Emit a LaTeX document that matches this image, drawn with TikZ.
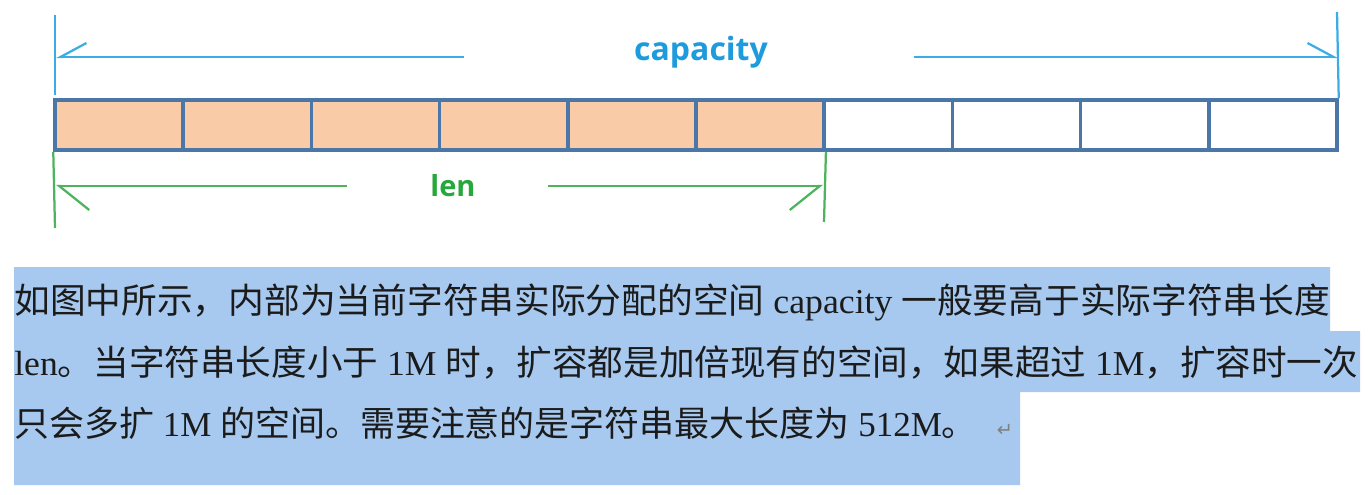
\documentclass[tikz,border=0pt]{standalone}
\usepackage{xcolor}
\usepackage{graphicx}
\usepackage{fontspec}
\usepackage{tikz}
\usetikzlibrary{arrows.meta}
\setmainfont{Liberation Serif}
\newfontfamily\zhfont{Noto Sans CJK SC}
\newfontfamily\labfont{Open Sans}
\newfontfamily\markfont{DejaVu Sans}
\newcommand{\zh}[1]{{\zhfont #1}}

\definecolor{capblue}{HTML}{1E9BDC}
\definecolor{caplineblue}{HTML}{3CACE6}
\definecolor{lengreen}{HTML}{27A83C}
\definecolor{lenlinegreen}{HTML}{4DB35C}
\definecolor{cellblue}{HTML}{4A76A8}
\definecolor{cellfill}{HTML}{F9CBA7}
\definecolor{markblue}{HTML}{A7C9EF}
\definecolor{textblack}{HTML}{1B1B1B}

\tikzset{
    cell/.style={draw=cellblue, line width=0.07cm, minimum width=2.564cm, minimum height=1cm, inner sep=0},
    usedcell/.style={cell, fill=cellfill},
    capline/.style={draw=caplineblue, line width=0.045cm},
    lenline/.style={draw=lenlinegreen, line width=0.045cm},
    capbarb/.style={-{Straight Barb[length=0.52cm, width=0.56cm, harpoon, #1]}},
    lenbarb/.style={-{Straight Barb[length=0.6cm, width=0.96cm, harpoon, #1]}},
    caplabel/.style={text=capblue, font=\labfont\bfseries\fontsize{18.2}{20}\selectfont, inner sep=0},
    lenlabel/.style={text=lengreen, font=\labfont\bfseries\fontsize{16.5}{18}\selectfont, inner sep=0},
    textline/.style={anchor=base west, inner sep=0, text=textblack, font=\fontsize{19.9}{24}\selectfont}
}

\begin{document}
\begin{tikzpicture}[x=0.02cm, y=-0.02cm]
    \useasboundingbox (0,0) rectangle (1368,494);

    \node[usedcell] at (119.1, 125) (0) {};
    \node[usedcell] at (247.3, 125) (1) {};
    \node[usedcell] at (375.5, 125) (2) {};
    \node[usedcell] at (503.7, 125) (3) {};
    \node[usedcell] at (631.9, 125) (4) {};
    \node[usedcell] at (760.1, 125) (5) {};
    \node[cell] at (888.3, 125) (6) {};
    \node[cell] at (1016.5, 125) (7) {};
    \node[cell] at (1144.7, 125) (8) {};
    \node[cell] at (1272.9, 125) (9) {};

    \node[caplabel] at (701, 52) (capacity) {capacity};
    \coordinate (capLtop) at (55, 15);
    \coordinate (capLbot) at (55, 95);
    \coordinate (capRtop) at (1337, 12);
    \coordinate (capLtip) at (56, 57);
    \coordinate (capLend) at (464, 57);
    \coordinate (capRend) at (914, 57);
    \coordinate (capRtip) at (1338, 57);

    \draw[capline] (capLtop) -- (capLbot);
    \draw[capline] (capRtop) -- (9.north east);
    \draw[capline, capbarb=swap] (capLend) -- (capLtip);
    \draw[capline, capbarb={}] (capRend) -- (capRtip);

    \node[lenlabel] at (453, 186) (len) {len};
    \coordinate (lenLbot) at (55, 228);
    \coordinate (lenRbot) at (824, 222);
    \coordinate (lenLtip) at (56, 186);
    \coordinate (lenLend) at (347, 186);
    \coordinate (lenRend) at (548, 186);
    \coordinate (lenRtip) at (823, 186);

    \draw[lenline] (0.south west) -- (lenLbot);
    \draw[lenline] (5.south east) -- (lenRbot);
    \draw[lenline, lenbarb={}] (lenLend) -- (lenLtip);
    \draw[lenline, lenbarb=swap] (lenRend) -- (lenRtip);

    \fill[markblue] (14, 267) -| (1330, 331) -| (1360, 392) -| (1020, 485) -| cycle;

    \node[textline] at (14, 313) (line1) {\resizebox{26.32cm}{\height}{\zh{如图中所示，内部为当前字符串实际分配的空间} capacity \zh{一般要高于实际字符串长度}}};
    \node[textline] at (14, 375) (line2) {\resizebox{26.88cm}{\height}{len\zh{。当字符串长度小于} 1M \zh{时，扩容都是加倍现有的空间，如果超过} 1M\zh{，扩容时一次}}};
    \node[textline] at (14, 436) (line3) {\zh{只会多扩} 1M \zh{的空间。需要注意的是字符串最大长度为} 512M\zh{。}\hspace{0.4cm}{\markfont\color{gray}\fontsize{11}{12}\selectfont ↵}};
\end{tikzpicture}
\end{document}
